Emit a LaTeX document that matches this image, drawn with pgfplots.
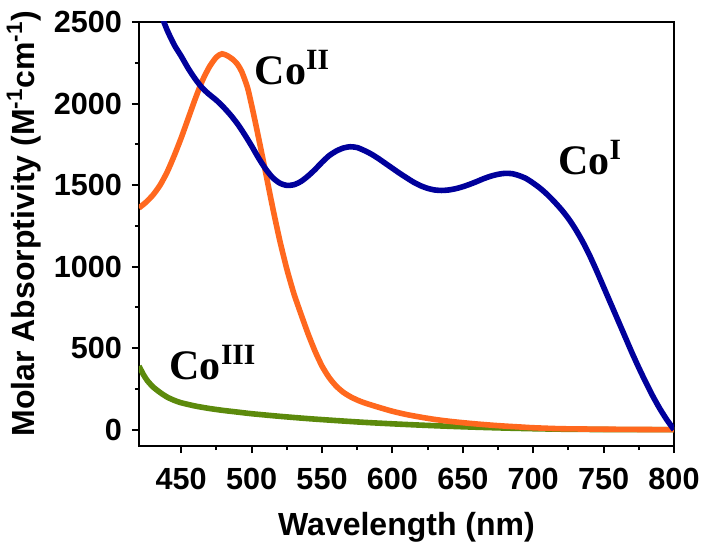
\documentclass[border=0pt]{standalone}
\usepackage{pgfplots}
\pgfplotsset{compat=1.18}
\usepackage{fontspec}
\setmainfont{Liberation Sans}
\newfontfamily\timesfont{Liberation Serif}

\definecolor{coI}{RGB}{0,0,155}
\definecolor{coII}{RGB}{255,104,30}
\definecolor{coIII}{RGB}{92,138,12}

\tikzset{annot/.style={anchor=base west, inner sep=0pt, font=\fontsize{21}{24}\timesfont\bfseries\selectfont}}

\begin{document}
\begin{tikzpicture}
\begin{axis}[
  name=main, at={(0,0)}, anchor=south west,
  scale only axis, width=267.5pt, height=212pt,
  xmin=420, xmax=800, ymin=-100, ymax=2500,
  xtick={450,500,...,800}, ytick={0,500,...,2500},
  minor x tick num=1, minor y tick num=1,
  xtick pos=bottom, ytick pos=left, tick align=outside,
  major tick length=3.5pt, minor tick length=2pt,
  axis line style={line width=1pt},
  every tick/.style={black, line width=1pt},
  tick label style={font=\fontsize{15.3}{18}\selectfont\bfseries},
  xticklabel style={yshift=-4pt},
  yticklabel style={xshift=-1.5pt},
  /pgf/number format/assume math mode=true,
  /pgf/number format/1000 sep={},
  scaled y ticks=false,
  xlabel={Wavelength (nm)},
  ylabel={Molar Absorptivity (M\textsuperscript{-1}cm\textsuperscript{-1})},
  label style={font=\fontsize{16}{19}\selectfont\bfseries},
  xlabel style={at={(axis description cs:0.5,0)}, anchor=base, yshift=-44.5pt},
  ylabel style={at={(axis description cs:-0.215,0.525)}, anchor=center},
  every axis plot/.append style={line width=2.8pt, no marks, smooth, tension=0.4},
]

% Co(III)
\addplot[coIII] table {
420 390
423 340
426 300
430 262
435 228
440 200
445 180
450 165
460 145
470 130
480 118
490 108
500 98
520 82
540 68
560 56
580 45
600 36
620 28
640 21
660 15
680 10
700 6
720 3
750 1
800 0
};

% Co(II)
\addplot[coII] table {
420 1360
425 1395
430 1440
435 1500
440 1580
445 1680
450 1790
455 1910
460 2030
465 2140
470 2225
475 2285
479 2305
483 2292
487 2268
490 2240
493 2195
497 2100
500 1990
503 1870
506 1745
510 1575
515 1360
520 1160
525 985
530 835
535 710
540 590
545 482
550 390
555 320
560 268
565 230
570 203
575 182
580 165
590 138
600 113
610 93
620 77
630 63
640 52
650 43
660 35
670 28
680 22
690 17
700 12
720 6
750 3
800 0
};

% Co(I)
\addplot[coI] table {
435 2560
440 2450
445 2360
450 2290
455 2215
460 2150
465 2095
470 2055
475 2020
480 1978
485 1930
490 1875
495 1810
500 1740
505 1665
510 1598
515 1545
520 1512
525 1498
530 1502
535 1522
540 1555
545 1595
550 1640
555 1680
560 1708
565 1727
570 1735
575 1730
580 1712
585 1690
590 1663
595 1633
600 1603
605 1573
610 1545
615 1518
620 1496
625 1480
630 1470
635 1467
640 1470
645 1478
650 1490
655 1505
660 1522
665 1540
670 1555
675 1566
680 1572
685 1570
690 1558
695 1540
700 1512
705 1480
710 1442
715 1398
720 1350
725 1295
730 1230
735 1155
740 1070
745 975
750 875
755 775
760 675
765 575
770 475
775 380
780 290
785 205
790 128
795 60
800 0
};

\node[annot] at (axis cs:502,2118) {Co\textsuperscript{II}};
\node[annot] at (axis cs:717.5,1562) {Co\textsuperscript{I}};
\node[annot] at (axis cs:441.5,306) {Co\textsuperscript{III}};
\end{axis}
\pgfresetboundingbox
\path (-69.5pt,-49.5pt) rectangle (282.5pt,223pt);
\end{tikzpicture}
\end{document}
